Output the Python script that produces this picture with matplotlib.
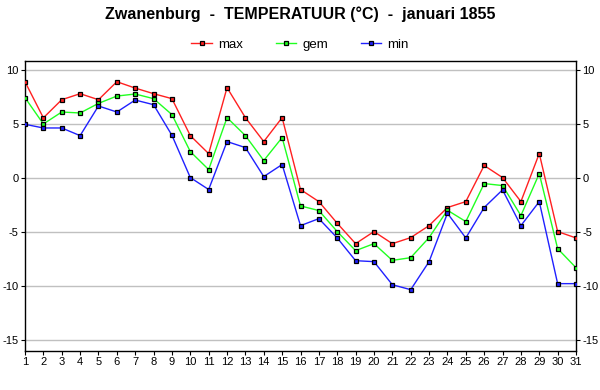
import matplotlib
matplotlib.use("Agg")
import matplotlib.pyplot as plt
from matplotlib.lines import Line2D

days = list(range(1, 32))
t_max = [8.95, 5.6, 7.28, 7.84, 7.28, 8.95, 8.36, 7.84, 7.38, 3.95,
         2.28, 8.4, 5.62, 3.4, 5.62, -1.05, -2.17, -4.18, -6.07, -4.95,
         -6.07, -5.51, -4.4, -2.72, -2.17, 1.18, 0.06, -2.17, 2.29, -4.95, -5.54]
t_gem = [7.47, 5.03, 6.14, 6.05, 6.94, 7.62, 7.81, 7.38, 5.9, 2.47,
         0.8, 5.62, 3.95, 1.64, 3.77, -2.57, -3.0, -4.95, -6.72, -6.07,
         -7.62, -7.37, -5.51, -2.97, -4.02, -0.5, -0.68, -3.47, 0.43, -6.53, -8.3]
t_min = [5.0, 4.66, 4.66, 3.95, 6.7, 6.14, 7.25, 6.82, 3.98, 0.06,
         -1.05, 3.4, 2.84, 0.15, 1.27, -4.4, -3.75, -5.54, -7.65, -7.74,
         -9.88, -10.34, -7.74, -3.25, -5.54, -2.72, -1.08, -4.4, -2.17, -9.78, -9.78]
series_names = ["max", "gem", "min"]
y_ticks = [10, 5, 0, -5, -10, -15]
title = "Zwanenburg  -  TEMPERATUUR (\u00b0C)  -  januari 1855"

plt.rcParams['font.family'] = ['Liberation Sans', 'DejaVu Sans']

fig = plt.figure(figsize=(6, 3.9), dpi=100)
ax = fig.add_axes([25/600, 1 - 350.7/390, 551/600, (350.7 - 60.7)/390])

colors = ["#ff2020", "#20ff20", "#2020ff"]
handles = []
for vals, c, name in zip([t_max, t_gem, t_min], colors, series_names):
    ax.plot(days, vals, color=c, lw=1.0, zorder=3)
    ax.plot(days, vals, ls='none', marker='s', ms=3.5, mfc=c, mec='black',
            mew=0.9, zorder=4)
    handles.append(Line2D([0], [0], color=c, lw=1.0, marker='s', ms=3.3,
                          mfc=c, mec='black', mew=0.9))

ax.set_xlim(1, 31)
ax.set_ylim(-16.0, 10.9)
ax.set_xticks(days)
ax.set_xticklabels([str(d) for d in days], fontsize=8)
ax.set_yticks(y_ticks)
ax.set_yticklabels([str(v) for v in y_ticks], fontsize=8)
ax.tick_params(axis='both', direction='out', length=3, width=0.8, pad=1.5,
               right=True, labelright=True)
ax.grid(axis='y', color='#c0c0c0', lw=1.0, zorder=1)
ax.grid(axis='x', visible=False)
for s in ax.spines.values():
    s.set_linewidth(1.0)

fig.text(0.5, 1 - 14/390, title, ha='center', va='center',
         fontsize=11.5, fontweight='bold')
fig.legend(handles, series_names, loc='center', bbox_to_anchor=(0.5, 1 - 45/390),
           ncol=3, frameon=False, fontsize=9.5, handlelength=1.55,
           columnspacing=2.5, handletextpad=0.45)

fig.savefig("out.png", dpi=100)
